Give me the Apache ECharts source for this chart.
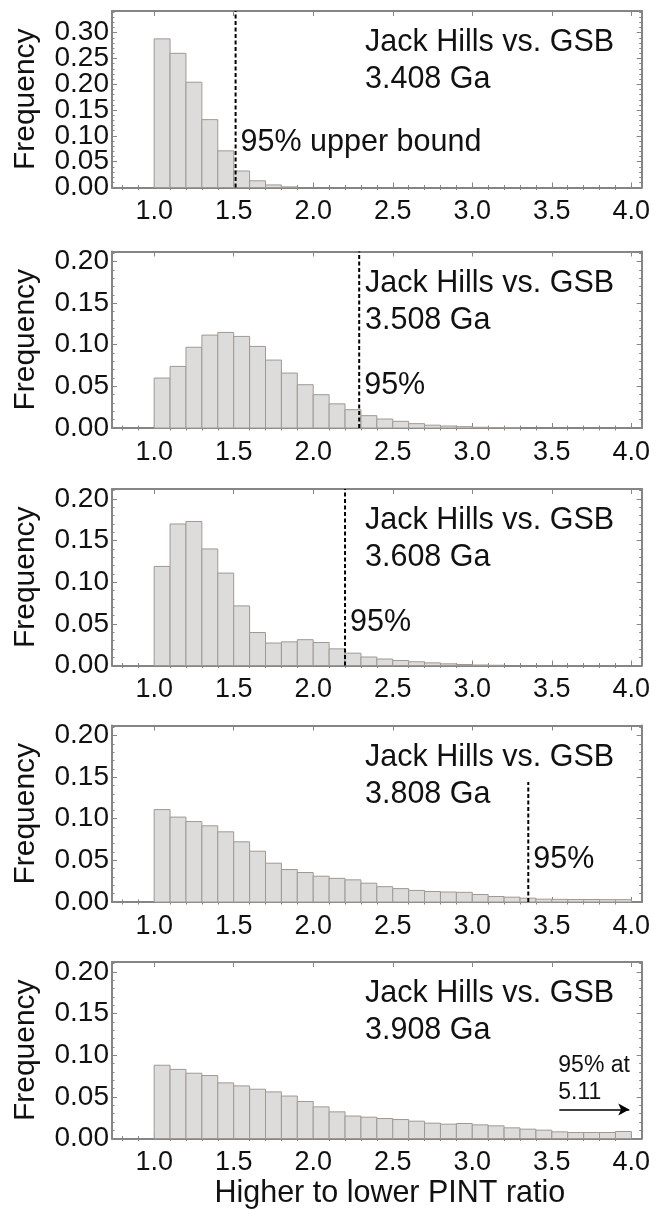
<!DOCTYPE html>
<html><head><meta charset="utf-8">
<script src="https://cdn.jsdelivr.net/npm/echarts@6/dist/echarts.min.js"></script>
<style>html,body{margin:0;padding:0;background:#fff}#c{width:668px;height:1211px}</style>
</head><body><div id="c"></div>
<script>
// ---- data ----
const binStarts = [1.0,1.1,1.2,1.3,1.4,1.5,1.6,1.7,1.8,1.9,2.0,2.1,2.2,2.3,2.4,2.5,2.6,2.7,2.8,2.9,3.0,3.1,3.2,3.3,3.4,3.5,3.6,3.7,3.8,3.9];
const binWidth = 0.1;
const freq3408 = [0.288,0.260,0.204,0.1315,0.071,0.032,0.013,0.005,0.0012,0,0,0,0,0,0,0,0,0,0,0,0,0,0,0,0,0,0,0,0,0];
const freq3508 = [0.060,0.074,0.097,0.1116,0.1148,0.110,0.098,0.0816,0.066,0.052,0.040,0.029,0.022,0.0148,0.0108,0.008,0.0052,0.0034,0.0024,0.0016,0.0009,0.0005,0.0003,0,0,0,0,0,0,0];
const freq3608 = [0.119,0.170,0.173,0.140,0.111,0.0716,0.0396,0.027,0.0284,0.031,0.0276,0.020,0.0148,0.0102,0.0078,0.006,0.0045,0.0032,0.002,0.0012,0.0006,0.0003,0,0,0,0,0,0,0,0];
const freq3808 = [0.111,0.102,0.0966,0.0915,0.0843,0.0723,0.061,0.0466,0.039,0.0354,0.031,0.0284,0.0266,0.0226,0.0184,0.0161,0.0139,0.0126,0.012,0.0116,0.009,0.0066,0.0058,0.0046,0.0034,0.0032,0.003,0.003,0.0028,0.0028];
const freq3908 = [0.088,0.083,0.0784,0.0756,0.0668,0.0632,0.0592,0.056,0.051,0.0444,0.038,0.032,0.027,0.0256,0.024,0.0228,0.0208,0.0184,0.0172,0.018,0.0164,0.0152,0.0128,0.0112,0.010,0.008,0.0072,0.0072,0.0072,0.0084];
const panelFreqs = [freq3408, freq3508, freq3608, freq3808, freq3908];
const ageLabels = ['3.408 Ga','3.508 Ga','3.608 Ga','3.808 Ga','3.908 Ga'];
const compLabel = 'Jack Hills vs. GSB';
const bound95 = [1.512, 2.289, 2.20, 3.352, null];
const bound95Top = [null, null, null, 0.144, null];   // null = full height
const boundText = ['95% upper bound','95%','95%','95%',null];
const offscaleText = ['95% at','5.11'];
const arrowFrom = [3.547, 0.0348], arrowTo = [3.987, 0.0348];
const xTickLabels = [1.0,1.5,2.0,2.5,3.0,3.5,4.0];
const yTickLabels1 = [0,0.05,0.10,0.15,0.20,0.25,0.30];
const yTickLabels = [0,0.05,0.10,0.15,0.20];
const xMin = 0.735, xMax = 4.065;
const yMaxs = [0.342, 0.212, 0.212, 0.212, 0.212];

// ---- layout ----
const FONT = '"Liberation Sans", Arial, sans-serif';
const tops = [11, 251.5, 489, 725.5, 962];
const H = 176.5, L = 112, R = 26.3;
const frameColor = '#858585', frameW = 2;

function minorList(lo, hi, step, majors){
  const out = [];
  for (let i = Math.ceil(lo/step - 1e-9); i*step <= hi + 1e-9; i++){
    const v = +(i*step).toFixed(4);
    if (!majors.some(m => Math.abs(m - v) < 1e-6)) out.push(v);
  }
  return out;
}
const xMinor = minorList(xMin, xMax, 0.1, xTickLabels);

const grids = [], xAxes = [], yAxes = [], series = [];
tops.forEach((t, g) => {
  grids.push({left: L, right: R, top: t, height: H});
  const yMaj = g === 0 ? yTickLabels1 : yTickLabels;
  const yMajEven = yMaj.filter((v, i) => i % 2 === 0);
  const yMajOdd = yMaj.filter((v, i) => i % 2 === 1);
  const yMin = minorList(0, yMaxs[g], 0.01, yMaj);
  const common = {gridIndex: g, type: 'value', min: xMin, max: xMax, splitLine: {show: false}};
  const line = {show: true, onZero: false, lineStyle: {color: frameColor, width: frameW}};
  const yLabelStyle = {show: true, formatter: v => v.toFixed(2), fontSize: 28, color: '#111', margin: 3, fontFamily: FONT, hideOverlap: false, showMinLabel: true, showMaxLabel: true};
  xAxes.push(Object.assign({}, common, {
    position: 'bottom', axisLine: line,
    axisTick: {show: true, inside: true, length: 5, customValues: xTickLabels, lineStyle: {color: frameColor, width: 1}},
    axisLabel: {show: true, customValues: xTickLabels, formatter: v => v.toFixed(1), fontSize: 27, color: '#111', margin: 11, fontFamily: FONT, hideOverlap: false, showMinLabel: true, showMaxLabel: true},
    name: g === 4 ? 'Higher to lower PINT ratio' : '', nameLocation: 'middle', nameGap: 40,
    nameTextStyle: {fontSize: 30.5, color: '#111', fontFamily: FONT, padding: [0, 0, 0, 26]}
  }));
  xAxes.push(Object.assign({}, common, {
    position: 'bottom', axisLine: {show: false},
    axisTick: {show: true, inside: true, length: 2.5, customValues: xMinor, lineStyle: {color: frameColor, width: 1}},
    axisLabel: {show: false}
  }));
  xAxes.push(Object.assign({}, common, {
    position: 'top', axisLine: line,
    axisTick: {show: true, inside: true, length: 5, customValues: xTickLabels, lineStyle: {color: frameColor, width: 1}},
    axisLabel: {show: false}
  }));
  xAxes.push(Object.assign({}, common, {
    position: 'top', axisLine: {show: false},
    axisTick: {show: true, inside: true, length: 2.5, customValues: xMinor, lineStyle: {color: frameColor, width: 1}},
    axisLabel: {show: false}
  }));
  const ycommon = {gridIndex: g, type: 'value', min: 0, max: yMaxs[g], splitLine: {show: false}};
  yAxes.push(Object.assign({}, ycommon, {
    position: 'left', axisLine: line,
    axisTick: {show: true, inside: true, length: 5, customValues: yMaj, lineStyle: {color: frameColor, width: 1}},
    axisLabel: Object.assign({customValues: yMajEven}, yLabelStyle),
    name: 'Frequency', nameLocation: 'middle', nameGap: 71,
    nameTextStyle: {fontSize: 30, color: '#111', fontFamily: FONT}
  }));
  yAxes.push(Object.assign({}, ycommon, {
    position: 'left', axisLine: {show: false},
    axisTick: {show: true, inside: true, length: 2.5, customValues: yMin, lineStyle: {color: frameColor, width: 1}},
    axisLabel: Object.assign({customValues: yMajOdd}, yLabelStyle)
  }));
  yAxes.push(Object.assign({}, ycommon, {
    position: 'right', axisLine: line,
    axisTick: {show: true, inside: true, length: 5, customValues: yMaj, lineStyle: {color: frameColor, width: 1}},
    axisLabel: {show: false}
  }));
  yAxes.push(Object.assign({}, ycommon, {
    position: 'right', axisLine: {show: false},
    axisTick: {show: true, inside: true, length: 2.5, customValues: yMin, lineStyle: {color: frameColor, width: 1}},
    axisLabel: {show: false}
  }));

  const data = [];
  binStarts.forEach((s, i) => { if (panelFreqs[g][i] > 0) data.push([s, +(s + binWidth).toFixed(2), panelFreqs[g][i]]); });
  const bars = {
    type: 'custom', xAxisIndex: 4*g, yAxisIndex: 4*g, silent: true, animation: false,
    encode: {x: [0, 1], y: 2},
    renderItem: (params, api) => {
      const p0 = api.coord([api.value(0), api.value(2)]);
      const p1 = api.coord([api.value(1), 0]);
      return {type: 'rect', shape: {x: p0[0], y: p0[1], width: p1[0] - p0[0], height: p1[1] - p0[1]},
        style: {fill: '#dcdcdc', stroke: '#a39890', lineWidth: 1}};
    },
    data: data
  };
  if (g === 4) {
    bars.markLine = {
      silent: true, animation: false, symbol: ['none', 'arrow'], symbolSize: [9, 11],
      label: {show: false},
      lineStyle: {color: '#000', width: 1.5, type: 'solid'},
      data: [[{coord: arrowFrom}, {coord: arrowTo}]]
    };
  }
  series.push(bars);
  if (bound95[g] !== null) {
    const top = bound95Top[g] !== null ? bound95Top[g] : yMaxs[g];
    series.push({
      type: 'line', xAxisIndex: 4*g, yAxisIndex: 4*g, silent: true, animation: false, symbol: 'none',
      lineStyle: {color: '#000', width: 2, type: [4, 2.5]},
      data: [[bound95[g], 0], [bound95[g], top]]
    });
  }
});

const chart = echarts.init(document.getElementById('c'), null, {renderer: 'canvas'});
chart.setOption({animation: false, backgroundColor: '#fff', grid: grids, xAxis: xAxes, yAxis: yAxes, series: series});

// ---- annotations (text) ----
const gfx = [];
function txt(x, baseline, s, fs){
  gfx.push({type: 'text', x: x, y: baseline - 0.31*fs, silent: true,
    style: {text: s, fontSize: fs, fontFamily: FONT, fill: '#111', align: 'left', verticalAlign: 'middle'}});
}
tops.forEach((t, g) => {
  txt(365, t + 41.5, compLabel, 30.5);
  txt(365, t + 78.5, ageLabels[g], 30.5);
  if (bound95[g] !== null) {
    const px = chart.convertToPixel({xAxisIndex: 4*g}, bound95[g]);
    txt(px + 5, t + (g === 0 ? 141.5 : 143.5), boundText[g], 30.5);
  }
});
const ax = chart.convertToPixel({xAxisIndex: 16}, arrowFrom[0]);
txt(ax - 1, 962 + 110.5, offscaleText[0], 23);
txt(ax - 1, 962 + 138, offscaleText[1], 23);
chart.setOption({graphic: gfx});
</script>
</body></html>
